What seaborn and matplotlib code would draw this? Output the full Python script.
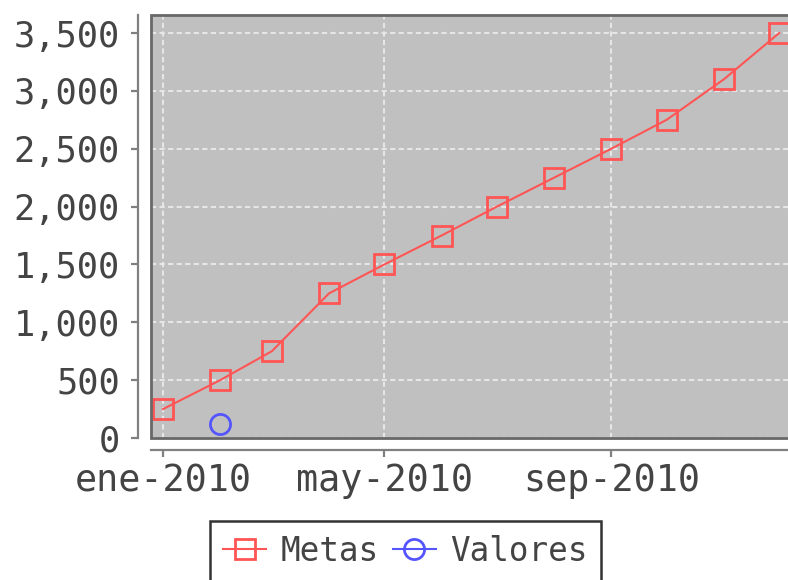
import matplotlib
matplotlib.use("Agg")
import matplotlib.pyplot as plt
import matplotlib.dates as mdates
from matplotlib.patches import Rectangle
import seaborn as sns
import pandas as pd

# ---- data ----
metas_dates = ["2010-01-01", "2010-02-01", "2010-03-01", "2010-04-01", "2010-05-01", "2010-06-01",
               "2010-07-01", "2010-08-01", "2010-09-01", "2010-10-01", "2010-11-01", "2010-12-01"]
metas_values = [250, 500, 750, 1250, 1500, 1750, 2000, 2250, 2500, 2750, 3100, 3500]
valores_dates = ["2010-02-01"]
valores_values = [125]
x_tick_dates = ["2010-01-01", "2010-05-01", "2010-09-01"]
x_tick_labels = ["ene-2010", "may-2010", "sep-2010"]
y_ticks = [0, 500, 1000, 1500, 2000, 2500, 3000, 3500]

RED = "#FF5555"
BLUE = "#5555FF"
TXT = "#444444"
AX = "#808080"

plt.rcParams["font.family"] = ["DejaVu Sans Mono", "DejaVu Sans"]

fig = plt.figure(figsize=(7.88, 5.80), dpi=100)
ax = fig.add_axes([151 / 788, 142 / 580, 638 / 788, 423 / 580])
ax.set_facecolor("#C0C0C0")

sns.lineplot(x=pd.to_datetime(metas_dates), y=metas_values, ax=ax, color=RED, lw=1.5,
             marker="s", ms=14.5, mfc="none", mec=RED, mew=2.0, label="Metas", clip_on=False)
sns.lineplot(x=pd.to_datetime(valores_dates), y=valores_values, ax=ax, color=BLUE, lw=1.5,
             marker="o", ms=14.5, mfc="none", mec=BLUE, mew=2.0, label="Valores", clip_on=False)

# limits
jan1 = mdates.date2num(pd.Timestamp("2010-01-01"))
ax.set_xlim(jan1 - 6.5, jan1 + 339.3)
ax.set_ylim(0, 3655.6)

ax.set_xticks([mdates.date2num(pd.Timestamp(d)) for d in x_tick_dates])
ax.set_xticklabels(x_tick_labels)
ax.set_yticks(y_ticks)
ax.set_yticklabels([f"{v:,}" for v in y_ticks])

ax.grid(True, color="#E6E6E6", lw=1.5, ls=(0, (2.5, 1.6)))
ax.set_axisbelow(True)

ax.set_xlabel("")
ax.set_ylabel("")

for s in ["top", "right"]:
    ax.spines[s].set_visible(False)
ax.spines["left"].set_position(("outward", 9.4))
ax.spines["bottom"].set_position(("outward", 8.6))
for s in ["left", "bottom"]:
    ax.spines[s].set_color(AX)
    ax.spines[s].set_linewidth(1.6)

ax.tick_params(axis="both", colors=AX, width=1.6, length=5, labelcolor=TXT)
ax.tick_params(axis="y", pad=8, labelsize=25.5)
ax.tick_params(axis="x", pad=4, labelsize=26.5)

ax.add_patch(Rectangle((0, 0), 1, 1, transform=ax.transAxes, fill=False,
                       ec="#686868", lw=2.0, clip_on=False, zorder=5))

ax.get_legend().remove()
handles, labels = ax.get_legend_handles_labels()
leg = fig.legend(handles, labels, loc="upper center", bbox_to_anchor=(405.5 / 788, 59 / 580),
                 ncol=2, frameon=True, fancybox=False, fontsize=23.5, handlelength=1.3,
                 handletextpad=0.45, columnspacing=0.45, borderpad=0.42, borderaxespad=0)
leg.get_frame().set_edgecolor("black")
leg.get_frame().set_linewidth(1.8)
for t in leg.get_texts():
    t.set_color(TXT)

fig.savefig("out.png", dpi=100)
